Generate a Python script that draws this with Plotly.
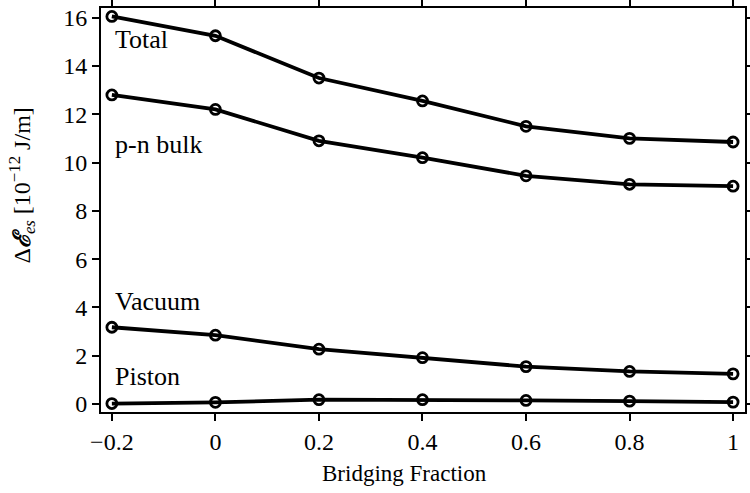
import plotly.graph_objects as go

# bridging fraction (x) and energy components [1e-12 J/m]
bridging = [-0.2, 0.0, 0.2, 0.4, 0.6, 0.8, 1.0]
total = [16.05, 15.25, 13.5, 12.55, 11.5, 11.0, 10.85]
pn_bulk = [12.8, 12.2, 10.9, 10.2, 9.45, 9.1, 9.02]
vacuum = [3.18, 2.85, 2.27, 1.92, 1.55, 1.35, 1.25]
piston = [0.02, 0.07, 0.18, 0.18, 0.15, 0.12, 0.08]

series_names = ['Total', 'p-n bulk', 'Vacuum', 'Piston']
label_y = [15.1, 10.75, 4.25, 1.12]

FONT = 'Liberation Serif'

fig = go.Figure()
for name, vals in zip(series_names, [total, pn_bulk, vacuum, piston]):
    fig.add_trace(go.Scatter(
        x=bridging, y=vals, mode='lines+markers', name=name,
        line=dict(color='black', width=3.8),
        marker=dict(symbol='circle-open', size=10, color='black', line=dict(width=2.8)),
        showlegend=False,
    ))

for name, y in zip(series_names, label_y):
    fig.add_annotation(
        x=-0.198, y=y, xref='x', yref='y', text=name, showarrow=False,
        xanchor='left', yanchor='middle', font=dict(family=FONT, size=26, color='black'),
    )

# axis titles as annotations (both sit a little off-centre in the original)
fig.add_annotation(
    x=-0.123, y=0.56, xref='paper', yref='paper', textangle=-90, showarrow=False,
    xanchor='center', yanchor='middle',
    text='\u0394<b><i>\u2130</i></b><sub><i>es</i></sub> [10<sup>\u221212</sup> J/m]',
    font=dict(family=FONT, size=24, color='black'),
)
fig.add_annotation(
    x=0.472, y=-0.152, xref='paper', yref='paper', showarrow=False,
    xanchor='center', yanchor='middle', text='Bridging Fraction',
    font=dict(family=FONT, size=23, color='black'),
)

axis_style = dict(
    showgrid=False, zeroline=False, showline=True, linecolor='black', linewidth=2,
    mirror='ticks', ticks='outside', ticklen=7, tickwidth=2, tickcolor='black',
    tickfont=dict(family=FONT, size=24, color='black'), automargin=False,
)

fig.update_xaxes(
    range=[-0.221, 1.023], tickvals=bridging, ticktext=['\u22120.2', '0', '0.2', '0.4', '0.6', '0.8', '1'],
    **axis_style,
)
fig.update_yaxes(
    range=[-0.33, 16.4], tickvals=[0, 2, 4, 6, 8, 10, 12, 14, 16],
    **axis_style,
)

fig.update_layout(
    width=750, height=493,
    font=dict(family=FONT, color='black'),
    margin=dict(l=101, r=5, t=8, b=81),
    paper_bgcolor='white', plot_bgcolor='white',
)

fig.write_html('out.html', config={'displayModeBar': False},
               post_script="document.body.style.margin='0';")
